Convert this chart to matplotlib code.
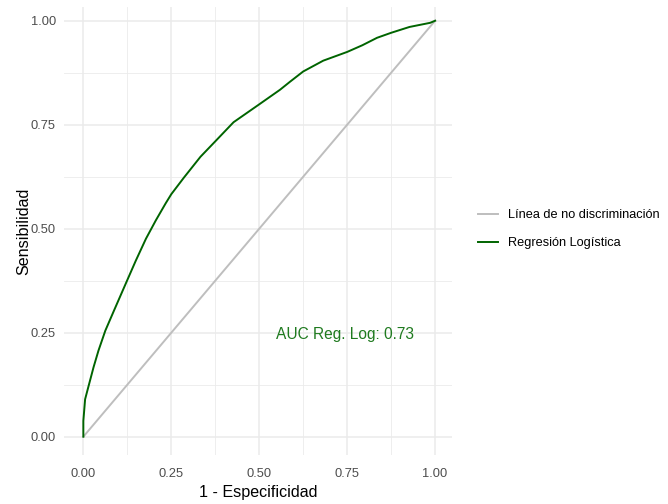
import matplotlib
matplotlib.use("Agg")
import matplotlib.pyplot as plt

plt.rcParams['font.family'] = ['Liberation Sans', 'DejaVu Sans']

# ROC data
fpr = [0.0, 0.0, 0.005, 0.014, 0.029, 0.043, 0.0625, 0.087, 0.12, 0.149, 0.178,
       0.206, 0.234, 0.25, 0.286, 0.333, 0.375, 0.427, 0.5, 0.559, 0.587, 0.625,
       0.682, 0.75, 0.793, 0.835, 0.875, 0.927, 0.986, 1.0]
tpr = [0.0, 0.038, 0.09, 0.119, 0.167, 0.207, 0.255, 0.303, 0.367, 0.423, 0.476,
       0.52, 0.561, 0.583, 0.623, 0.673, 0.71, 0.756, 0.799, 0.834, 0.853, 0.878,
       0.904, 0.925, 0.941, 0.959, 0.971, 0.985, 0.995, 1.0]
diag = [0.0, 1.0]
ticks = [0.0, 0.25, 0.5, 0.75, 1.0]
tick_labels = ["0.00", "0.25", "0.50", "0.75", "1.00"]
minor_ticks = [0.125, 0.375, 0.625, 0.875]
auc_label = "AUC Reg. Log: 0.73"
series_names = ["Línea de no discriminación", "Regresión Logística"]

fig = plt.figure(figsize=(6.68, 5.04), dpi=100)
ax = fig.add_axes([64 / 668, 1 - 455 / 504, 388 / 668, 448 / 504])

ax.plot(diag, diag, color="#BEBEBE", lw=1.4, label=series_names[0], zorder=3)
ax.plot(fpr, tpr, color="#006400", lw=1.4, label=series_names[1], zorder=4)
ax.text(0.745, 0.245, auc_label, color="#1f7a1f", fontsize=11.2,
        ha="center", va="center", zorder=5)

ax.set_xlim(-0.055, 1.048)
ax.set_ylim(-0.044, 1.033)
ax.set_xticks(ticks)
ax.set_xticklabels(tick_labels)
ax.set_yticks(ticks)
ax.set_yticklabels(tick_labels)
ax.set_xticks(minor_ticks, minor=True)
ax.set_yticks(minor_ticks, minor=True)
ax.grid(True, which="major", color="#EBEBEB", lw=1.1)
ax.grid(True, which="minor", color="#EBEBEB", lw=0.6)
ax.set_axisbelow(True)
for s in ax.spines.values():
    s.set_visible(False)
ax.tick_params(which="both", length=0)
ax.tick_params(axis="x", pad=9.5, labelsize=9.3, labelcolor="#4D4D4D")
ax.tick_params(axis="y", pad=5.8, labelsize=9.3, labelcolor="#4D4D4D")

ax.set_xlabel("1 - Especificidad", fontsize=11.6, color="black")
ax.set_ylabel("Sensibilidad", fontsize=11.6, color="black")
ax.xaxis.set_label_coords(0.5, -0.066)
ax.yaxis.set_label_coords(-0.085, 0.5)

handles, labels = ax.get_legend_handles_labels()
fig.legend(handles, labels, loc="center left", bbox_to_anchor=(478 / 668, 1 - 229 / 504),
           frameon=False, fontsize=9.2, handlelength=1.55, handletextpad=0.82,
           labelspacing=1.25, borderpad=0, borderaxespad=0)

fig.savefig("out.png", dpi=100)
